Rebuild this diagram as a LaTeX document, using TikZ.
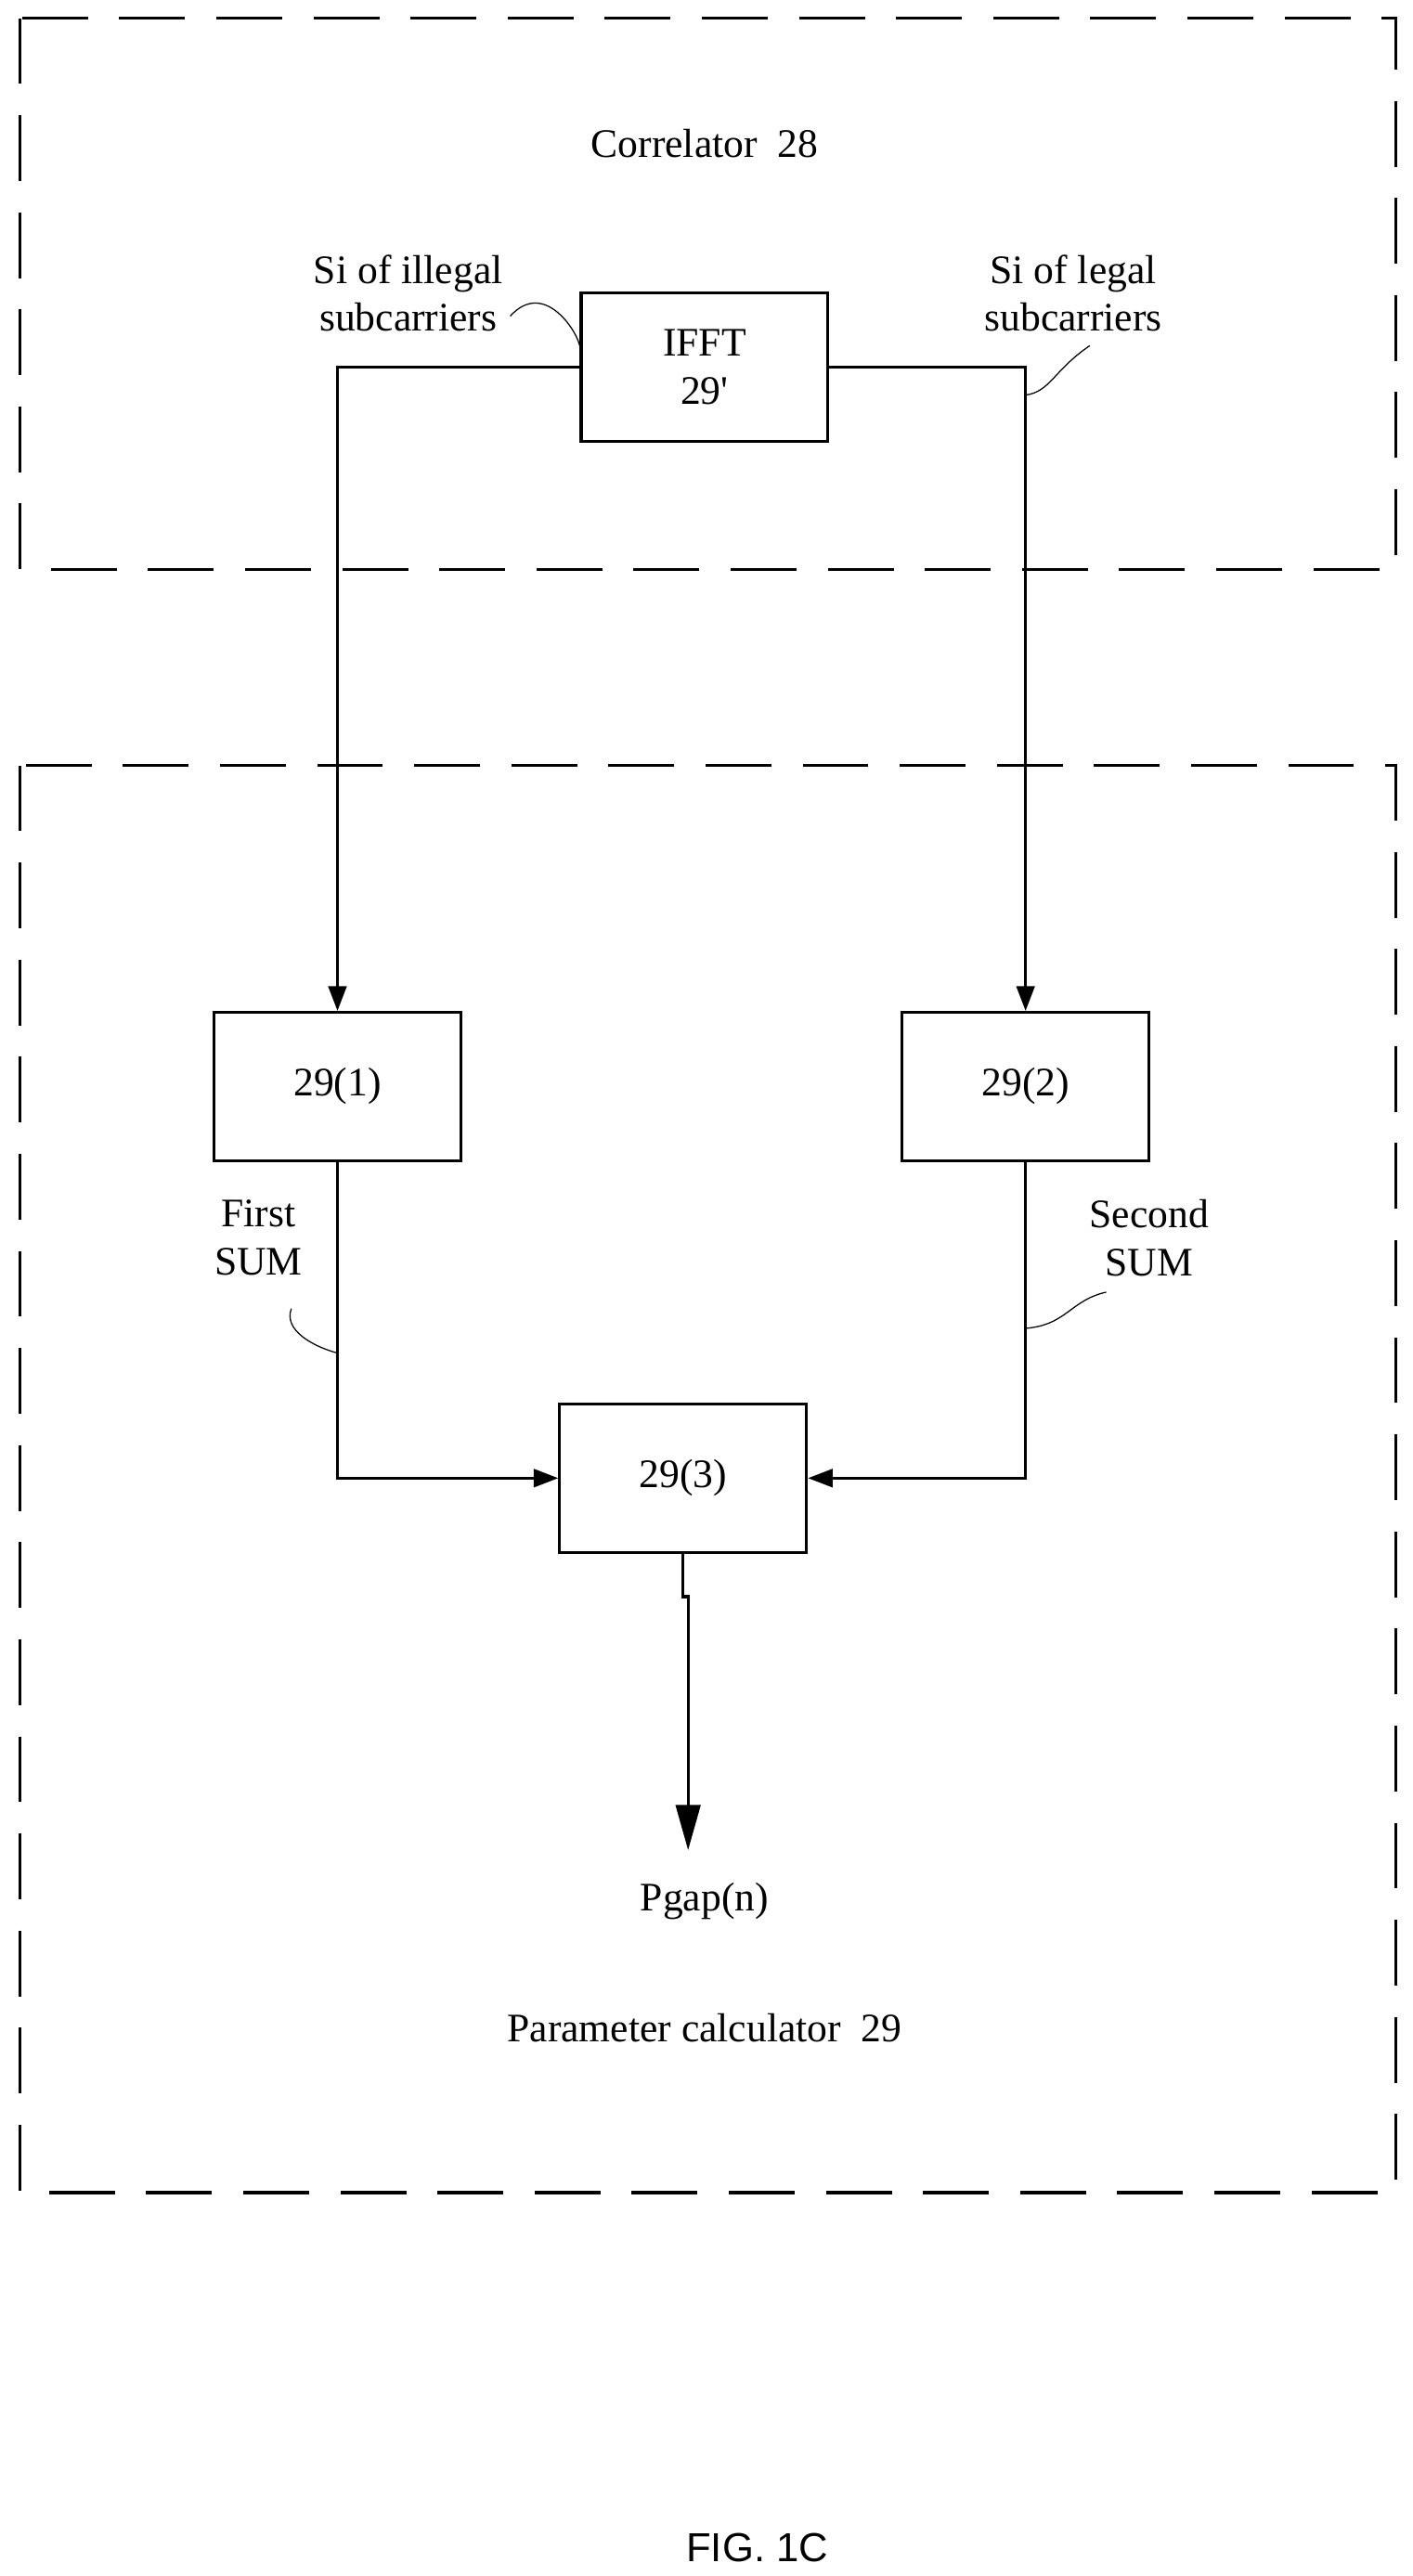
\documentclass[tikz,border=0pt]{standalone}
\usepackage{fontspec}
\setmainfont{Liberation Serif}
\newfontfamily\figfont{Liberation Sans}
\usetikzlibrary{arrows.meta}
\begin{document}
\begin{tikzpicture}[x=0.02cm,y=-0.02cm,font=\fontsize{14}{16.5}\selectfont,
  blk/.style={rectangle,draw=black,line width=1pt,minimum width=3cm,minimum height=1.8cm,align=center},
  grp/.style={draw=black,line width=1.1pt,dash pattern=on 0.8cm off 0.38cm},
  sig/.style={line width=1pt,-{Triangle[length=0.3cm,width=0.22cm]}},
  lead/.style={thin}]
\useasboundingbox (0,0) rectangle (858,1565);
% groups
\draw[grp] (12,11) rectangle (848,346);
\draw[grp] (12,465) rectangle (848,1332);
\node (corr) at (428,87) {Correlator\ \ 28};
\node (param) at (428,1232) {Parameter calculator\ \ 29};
% blocks
\node[blk] (ifft) at (428,223) {IFFT\\29\textquotesingle};
\node[blk] (s1) at (205,660) {29(1)};
\node[blk] (s2) at (623,660) {29(2)};
\node[blk] (s3) at (415,898) {29(3)};
\node (pgap) at (428,1155) {Pgap(n)};
\coordinate (bend) at (418,970);
\coordinate (out) at (418,1124);
% connectors
\draw[sig] (ifft.west) -| (s1.north);
\draw[sig] (ifft.east) -| (s2.north);
\draw[sig] (s1.south) |- (s3.west);
\draw[sig] (s2.south) |- (s3.east);
\draw[line width=1pt,-{Triangle[length=0.55cm,width=0.3cm]}] (s3.south) -- (415,970) -- (bend) -- (out);
% labels
\node[align=center] (lil) at (248,178) {Si of illegal\\subcarriers};
\node[align=center] (lle) at (652,178) {Si of legal\\subcarriers};
\node[align=center] (lfs) at (157,752) {First\\SUM};
\node[align=center] (lss) at (698,752) {Second\\SUM};
\draw[lead] (310,192) .. controls (330,170) and (350,200) .. (ifft.west |- 0,210);
\draw[lead] (s2.north |- 0,240) .. controls (638,238) and (640,225) .. (662,210);
\draw[lead] (177,795) .. controls (172,808) and (190,818) .. (s1.south |- 0,822);
\draw[lead] (s2.south |- 0,807) .. controls (648,805) and (650,790) .. (672,785);
\node[font=\figfont\fontsize{14}{16.5}\selectfont] (fig) at (460,1548) {FIG. 1C};
\end{tikzpicture}
\end{document}
